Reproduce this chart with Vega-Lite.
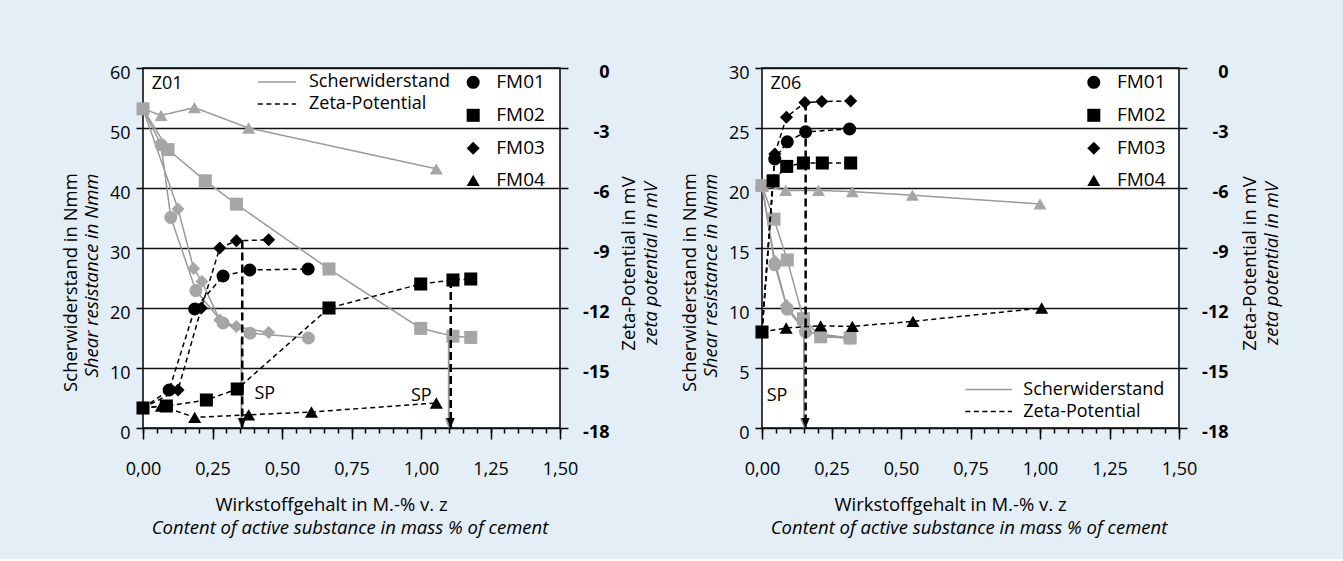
{
"$schema": "https://vega.github.io/schema/vega-lite/v6.json",
"background": "#E4EEF6",
"padding": {"left": 60, "top": 62, "right": 61, "bottom": 21},
"spacing": 18,
"config": {
  "font": "Open Sans",
  "view": {"stroke": "black", "strokeWidth": 1.5, "fill": "white"},
  "axis": {"labelColor": "black", "titleColor": "black", "tickColor": "black", "tickWidth": 1.5, "domain": false, "grid": false, "titleFontWeight": "normal", "labelFont": "Open Sans", "titleFont": "Open Sans", "labelFlush": false, "labelOverlap": false},
  "legend": {"labelFont": "Open Sans", "labelColor": "black", "padding": 0},
  "locale": {"number": {"decimal": ",", "thousands": ".", "grouping": [3], "currency": ["", " €"], "minus": "-"}}
},
"datasets": {
  "pts": [
    {"p":"Z01","m":"Scherwiderstand","s":"FM01","x":0,"v":53.2},{"p":"Z01","m":"Scherwiderstand","s":"FM01","x":0.065,"v":47.2},{"p":"Z01","m":"Scherwiderstand","s":"FM01","x":0.10,"v":35.1},{"p":"Z01","m":"Scherwiderstand","s":"FM01","x":0.19,"v":22.9},{"p":"Z01","m":"Scherwiderstand","s":"FM01","x":0.288,"v":17.5},{"p":"Z01","m":"Scherwiderstand","s":"FM01","x":0.385,"v":15.8},{"p":"Z01","m":"Scherwiderstand","s":"FM01","x":0.595,"v":15.0},
    {"p":"Z01","m":"Scherwiderstand","s":"FM02","x":0,"v":53.2},{"p":"Z01","m":"Scherwiderstand","s":"FM02","x":0.09,"v":46.4},{"p":"Z01","m":"Scherwiderstand","s":"FM02","x":0.224,"v":41.2},{"p":"Z01","m":"Scherwiderstand","s":"FM02","x":0.336,"v":37.3},{"p":"Z01","m":"Scherwiderstand","s":"FM02","x":0.669,"v":26.5},{"p":"Z01","m":"Scherwiderstand","s":"FM02","x":0.999,"v":16.6},{"p":"Z01","m":"Scherwiderstand","s":"FM02","x":1.115,"v":15.3},{"p":"Z01","m":"Scherwiderstand","s":"FM02","x":1.179,"v":15.1},
    {"p":"Z01","m":"Scherwiderstand","s":"FM03","x":0,"v":53.2},{"p":"Z01","m":"Scherwiderstand","s":"FM03","x":0.126,"v":36.5},{"p":"Z01","m":"Scherwiderstand","s":"FM03","x":0.182,"v":26.6},{"p":"Z01","m":"Scherwiderstand","s":"FM03","x":0.212,"v":24.4},{"p":"Z01","m":"Scherwiderstand","s":"FM03","x":0.276,"v":18.0},{"p":"Z01","m":"Scherwiderstand","s":"FM03","x":0.336,"v":16.9},{"p":"Z01","m":"Scherwiderstand","s":"FM03","x":0.452,"v":15.9},
    {"p":"Z01","m":"Scherwiderstand","s":"FM04","x":0,"v":53.2},{"p":"Z01","m":"Scherwiderstand","s":"FM04","x":0.065,"v":52.1},{"p":"Z01","m":"Scherwiderstand","s":"FM04","x":0.185,"v":53.4},{"p":"Z01","m":"Scherwiderstand","s":"FM04","x":0.38,"v":50.0},{"p":"Z01","m":"Scherwiderstand","s":"FM04","x":1.055,"v":43.2},
    {"p":"Z01","m":"Zeta-Potential","s":"FM01","x":0,"v":-17.0},{"p":"Z01","m":"Zeta-Potential","s":"FM01","x":0.094,"v":-16.1},{"p":"Z01","m":"Zeta-Potential","s":"FM01","x":0.186,"v":-12.05},{"p":"Z01","m":"Zeta-Potential","s":"FM01","x":0.288,"v":-10.4},{"p":"Z01","m":"Zeta-Potential","s":"FM01","x":0.384,"v":-10.1},{"p":"Z01","m":"Zeta-Potential","s":"FM01","x":0.594,"v":-10.05},
    {"p":"Z01","m":"Zeta-Potential","s":"FM02","x":0,"v":-17.0},{"p":"Z01","m":"Zeta-Potential","s":"FM02","x":0.084,"v":-16.9},{"p":"Z01","m":"Zeta-Potential","s":"FM02","x":0.228,"v":-16.6},{"p":"Z01","m":"Zeta-Potential","s":"FM02","x":0.339,"v":-16.05},{"p":"Z01","m":"Zeta-Potential","s":"FM02","x":0.669,"v":-12.0},{"p":"Z01","m":"Zeta-Potential","s":"FM02","x":0.999,"v":-10.8},{"p":"Z01","m":"Zeta-Potential","s":"FM02","x":1.115,"v":-10.6},{"p":"Z01","m":"Zeta-Potential","s":"FM02","x":1.179,"v":-10.55},
    {"p":"Z01","m":"Zeta-Potential","s":"FM03","x":0,"v":-17.0},{"p":"Z01","m":"Zeta-Potential","s":"FM03","x":0.126,"v":-16.1},{"p":"Z01","m":"Zeta-Potential","s":"FM03","x":0.21,"v":-12.0},{"p":"Z01","m":"Zeta-Potential","s":"FM03","x":0.276,"v":-9.0},{"p":"Z01","m":"Zeta-Potential","s":"FM03","x":0.336,"v":-8.64},{"p":"Z01","m":"Zeta-Potential","s":"FM03","x":0.452,"v":-8.59},
    {"p":"Z01","m":"Zeta-Potential","s":"FM04","x":0,"v":-17.0},{"p":"Z01","m":"Zeta-Potential","s":"FM04","x":0.066,"v":-16.9},{"p":"Z01","m":"Zeta-Potential","s":"FM04","x":0.186,"v":-17.47},{"p":"Z01","m":"Zeta-Potential","s":"FM04","x":0.38,"v":-17.34},{"p":"Z01","m":"Zeta-Potential","s":"FM04","x":0.606,"v":-17.2},{"p":"Z01","m":"Zeta-Potential","s":"FM04","x":1.055,"v":-16.75},
    {"p":"Z06","m":"Scherwiderstand","s":"FM01","x":0,"v":20.2},{"p":"Z06","m":"Scherwiderstand","s":"FM01","x":0.046,"v":13.6},{"p":"Z06","m":"Scherwiderstand","s":"FM01","x":0.091,"v":9.9},{"p":"Z06","m":"Scherwiderstand","s":"FM01","x":0.157,"v":8.0},{"p":"Z06","m":"Scherwiderstand","s":"FM01","x":0.315,"v":7.5},
    {"p":"Z06","m":"Scherwiderstand","s":"FM02","x":0,"v":20.2},{"p":"Z06","m":"Scherwiderstand","s":"FM02","x":0.043,"v":17.4},{"p":"Z06","m":"Scherwiderstand","s":"FM02","x":0.091,"v":14.0},{"p":"Z06","m":"Scherwiderstand","s":"FM02","x":0.149,"v":9.1},{"p":"Z06","m":"Scherwiderstand","s":"FM02","x":0.211,"v":7.6},{"p":"Z06","m":"Scherwiderstand","s":"FM02","x":0.317,"v":7.5},
    {"p":"Z06","m":"Scherwiderstand","s":"FM03","x":0,"v":20.2},{"p":"Z06","m":"Scherwiderstand","s":"FM03","x":0.046,"v":13.9},{"p":"Z06","m":"Scherwiderstand","s":"FM03","x":0.088,"v":10.2},{"p":"Z06","m":"Scherwiderstand","s":"FM03","x":0.154,"v":8.1},{"p":"Z06","m":"Scherwiderstand","s":"FM03","x":0.215,"v":7.7},{"p":"Z06","m":"Scherwiderstand","s":"FM03","x":0.319,"v":7.5},
    {"p":"Z06","m":"Scherwiderstand","s":"FM04","x":0,"v":20.2},{"p":"Z06","m":"Scherwiderstand","s":"FM04","x":0.085,"v":19.8},{"p":"Z06","m":"Scherwiderstand","s":"FM04","x":0.203,"v":19.8},{"p":"Z06","m":"Scherwiderstand","s":"FM04","x":0.325,"v":19.7},{"p":"Z06","m":"Scherwiderstand","s":"FM04","x":0.541,"v":19.4},{"p":"Z06","m":"Scherwiderstand","s":"FM04","x":1.0,"v":18.67},
    {"p":"Z06","m":"Zeta-Potential","s":"FM01","x":0,"v":-13.2},{"p":"Z06","m":"Zeta-Potential","s":"FM01","x":0.046,"v":-4.55},{"p":"Z06","m":"Zeta-Potential","s":"FM01","x":0.091,"v":-3.69},{"p":"Z06","m":"Zeta-Potential","s":"FM01","x":0.157,"v":-3.19},{"p":"Z06","m":"Zeta-Potential","s":"FM01","x":0.315,"v":-3.05},
    {"p":"Z06","m":"Zeta-Potential","s":"FM02","x":0,"v":-13.2},{"p":"Z06","m":"Zeta-Potential","s":"FM02","x":0.04,"v":-5.64},{"p":"Z06","m":"Zeta-Potential","s":"FM02","x":0.089,"v":-4.92},{"p":"Z06","m":"Zeta-Potential","s":"FM02","x":0.149,"v":-4.75},{"p":"Z06","m":"Zeta-Potential","s":"FM02","x":0.217,"v":-4.75},{"p":"Z06","m":"Zeta-Potential","s":"FM02","x":0.319,"v":-4.75},
    {"p":"Z06","m":"Zeta-Potential","s":"FM03","x":0,"v":-13.2},{"p":"Z06","m":"Zeta-Potential","s":"FM03","x":0.046,"v":-4.3},{"p":"Z06","m":"Zeta-Potential","s":"FM03","x":0.088,"v":-2.46},{"p":"Z06","m":"Zeta-Potential","s":"FM03","x":0.154,"v":-1.73},{"p":"Z06","m":"Zeta-Potential","s":"FM03","x":0.215,"v":-1.68},{"p":"Z06","m":"Zeta-Potential","s":"FM03","x":0.319,"v":-1.65},
    {"p":"Z06","m":"Zeta-Potential","s":"FM04","x":0,"v":-13.2},{"p":"Z06","m":"Zeta-Potential","s":"FM04","x":0.087,"v":-13.0},{"p":"Z06","m":"Zeta-Potential","s":"FM04","x":0.211,"v":-12.89},{"p":"Z06","m":"Zeta-Potential","s":"FM04","x":0.325,"v":-12.92},{"p":"Z06","m":"Zeta-Potential","s":"FM04","x":0.543,"v":-12.67},{"p":"Z06","m":"Zeta-Potential","s":"FM04","x":1.006,"v":-12.0}
  ],
  "arrows": [
    {"p":"Z01","m":"Scherwiderstand","x":0.354,"top":15.1,"bot":0},
    {"p":"Z01","m":"Zeta-Potential","x":0.357,"top":-8.62,"bot":-18},
    {"p":"Z01","m":"Scherwiderstand","x":1.100,"top":15.2,"bot":0},
    {"p":"Z01","m":"Zeta-Potential","x":1.107,"top":-10.6,"bot":-18},
    {"p":"Z06","m":"Scherwiderstand","x":0.151,"top":8.0,"bot":0},
    {"p":"Z06","m":"Zeta-Potential","x":0.157,"top":-1.73,"bot":-18}
  ],
  "notes": [
    {"p":"Z01","t":"Z01","x":0.087,"v":57.3},
    {"p":"Z01","t":"SP","x":0.438,"v":5.7},
    {"p":"Z01","t":"SP","x":1.001,"v":5.4},
    {"p":"Z06","t":"Z06","x":0.086,"v":28.67},
    {"p":"Z06","t":"SP","x":0.054,"v":2.69}
  ]
},
"resolve": {"scale": {"color": "independent", "shape": "independent", "strokeDash": "independent"}, "legend": {"color": "independent", "shape": "independent", "strokeDash": "independent"}},
"hconcat": [
{
  "width": 417, "height": 360,
  "resolve": {"scale": {"y": "independent", "shape": "independent"}, "axis": {"x": "independent", "y": "independent"}},
  "layer": [
    {
      "data": {"name": "pts"},
      "transform": [{"filter": "datum.p == 'Z01' && datum.m == 'Scherwiderstand'"}],
      "mark": {"type": "line", "strokeWidth": 1.5},
      "encoding": {
        "x": {"field": "x", "type": "quantitative", "scale": {"domain": [0, 1.5], "nice": false},
              "axis": {"orient": "bottom", "values": [0, 0.25, 0.5, 0.75, 1, 1.25, 1.5], "format": ".2f", "tickSize": 11, "labelFontSize": 18, "labelPadding": 30, "labelBaseline": "middle", "title": "Wirkstoffgehalt in M.-% v. z", "titleFontSize": 18.5, "titleX": 188, "titleY": 76, "titleBaseline": "middle", "titleAlign": "center"}},
        "y": {"field": "v", "type": "quantitative", "scale": {"domain": [0, 60], "nice": false},
              "axis": {"orient": "left", "values": [0, 10, 20, 30, 40, 50, 60], "tickSize": 7, "grid": true, "gridColor": "#111111", "gridWidth": 1.5, "labelFontSize": 18, "labelPadding": 6, "labelOffset": 5, "title": "Scherwiderstand in Nmm", "titleFontSize": 18.5, "titleAngle": -90, "titleX": -73, "titleY": 214, "titleBaseline": "middle", "titleAlign": "center"}},
        "color": {"field": "m", "type": "nominal", "scale": {"domain": ["Scherwiderstand", "Zeta-Potential"], "range": ["#999999", "#000000"]},
                  "legend": {"orient": "none", "legendX": 125, "legendY": 5, "title": null, "symbolType": "M-3.83,0H3.83", "symbolSize": 100, "symbolStrokeWidth": 1.5, "labelFontSize": 18, "labelOffset": 23, "rowPadding": 4, "padding": 0}},
        "strokeDash": {"field": "m", "type": "nominal", "scale": {"domain": ["Scherwiderstand", "Zeta-Potential"], "range": [[1, 0], [5, 3.5]]},
                  "legend": {"orient": "none", "legendX": 125, "legendY": 5, "title": null, "symbolType": "M-3.83,0H3.83", "symbolSize": 100, "symbolStrokeWidth": 1.5, "labelFontSize": 18, "labelOffset": 23, "rowPadding": 4, "padding": 0}},
        "detail": {"field": "s"}
      }
    },
    {
      "data": {"name": "pts"},
      "transform": [{"filter": "datum.p == 'Z01' && datum.m == 'Scherwiderstand' && (datum.x > 0 || datum.s == 'FM02')"}],
      "mark": {"type": "point", "filled": true, "size": 170, "opacity": 1, "color": "#a6a6a6"},
      "encoding": {
        "x": {"field": "x", "type": "quantitative", "scale": {"domain": [0, 1.5], "nice": false},
              "axis": {"orient": "bottom", "values": [0,0.05,0.1,0.15,0.2,0.25,0.3,0.35,0.4,0.45,0.5,0.55,0.6,0.65,0.7,0.75,0.8,0.85,0.9,0.95,1,1.05,1.1,1.15,1.2,1.25,1.3,1.35,1.4,1.45,1.5], "labels": false, "tickSize": 5, "title": "Content of active substance in mass % of cement", "titleFontSize": 18.5, "titleFontStyle": "italic", "titleX": 206.5, "titleY": 99, "titleBaseline": "middle", "titleAlign": "center"}},
        "y": {"field": "v", "type": "quantitative", "scale": {"domain": [0, 60], "nice": false},
              "axis": {"orient": "left", "labels": false, "ticks": false, "title": "Shear resistance in Nmm", "titleFontStyle": "italic", "titleFontSize": 18.5, "titleAngle": -90, "titleX": -52, "titleY": 207, "titleBaseline": "middle", "titleAlign": "center"}},
        "shape": {"field": "s", "type": "nominal", "scale": {"domain": ["FM01", "FM02", "FM03", "FM04"], "range": ["circle", "square", "diamond", "triangle-up"]}, "legend": null}
      }
    },
    {
      "data": {"name": "arrows"},
      "transform": [{"filter": "datum.p == 'Z01' && datum.m == 'Scherwiderstand'"}],
      "mark": {"type": "rule", "color": "#9a9a9a", "strokeWidth": 2},
      "encoding": {
        "x": {"field": "x", "type": "quantitative", "scale": {"domain": [0, 1.5], "nice": false}, "axis": null},
        "y": {"field": "top", "type": "quantitative", "scale": {"domain": [0, 60], "nice": false}, "axis": null},
        "y2": {"field": "bot"}
      }
    },
    {
      "data": {"name": "arrows"},
      "transform": [{"filter": "datum.p == 'Z01' && datum.m == 'Scherwiderstand'"}],
      "mark": {"type": "point", "shape": "M-2,-5L2,-5L0,0Z", "size": 16, "filled": true, "opacity": 1, "color": "#8a8a8a"},
      "encoding": {
        "x": {"field": "x", "type": "quantitative", "scale": {"domain": [0, 1.5], "nice": false}, "axis": null},
        "y": {"field": "bot", "type": "quantitative", "scale": {"domain": [0, 60], "nice": false}, "axis": null}
      }
    },
    {
      "data": {"name": "pts"},
      "transform": [{"filter": "datum.p == 'Z01' && datum.m == 'Zeta-Potential'"}],
      "mark": {"type": "line", "strokeWidth": 1.5},
      "encoding": {
        "x": {"field": "x", "type": "quantitative", "scale": {"domain": [0, 1.5], "nice": false}, "axis": null},
        "y": {"field": "v", "type": "quantitative", "scale": {"domain": [-18, 0], "nice": false, "zero": false},
              "axis": {"orient": "right", "values": [-18, -15, -12, -9, -6, -3, 0], "format": "d", "tickSize": 8, "labelAlign": "right", "labelPadding": 41, "labelFontSize": 18, "labelFontWeight": "bold", "labelOffset": 4, "title": "Zeta-Potential in mV", "titleFontSize": 18.5, "titleAngle": -90, "titleX": 68, "titleY": 195, "titleBaseline": "middle", "titleAlign": "center"}},
        "color": {"field": "m", "type": "nominal", "scale": {"domain": ["Scherwiderstand", "Zeta-Potential"], "range": ["#999999", "#000000"]},
                  "legend": {"orient": "none", "legendX": 125, "legendY": 5, "title": null, "symbolType": "M-3.83,0H3.83", "symbolSize": 100, "symbolStrokeWidth": 1.5, "labelFontSize": 18, "labelOffset": 23, "rowPadding": 4, "padding": 0}},
        "strokeDash": {"field": "m", "type": "nominal", "scale": {"domain": ["Scherwiderstand", "Zeta-Potential"], "range": [[1, 0], [5, 3.5]]},
                  "legend": {"orient": "none", "legendX": 125, "legendY": 5, "title": null, "symbolType": "M-3.83,0H3.83", "symbolSize": 100, "symbolStrokeWidth": 1.5, "labelFontSize": 18, "labelOffset": 23, "rowPadding": 4, "padding": 0}},
        "detail": {"field": "s"}
      }
    },
    {
      "data": {"name": "pts"},
      "transform": [{"filter": "datum.p == 'Z01' && datum.m == 'Zeta-Potential' && (datum.x > 0 || datum.s == 'FM02')"}],
      "mark": {"type": "point", "filled": true, "size": 170, "opacity": 1, "color": "#000000"},
      "encoding": {
        "x": {"field": "x", "type": "quantitative", "scale": {"domain": [0, 1.5], "nice": false}, "axis": null},
        "y": {"field": "v", "type": "quantitative", "scale": {"domain": [-18, 0], "nice": false, "zero": false},
              "axis": {"orient": "right", "labels": false, "ticks": false, "title": "zeta potential in mV", "titleFontStyle": "italic", "titleFontSize": 18.5, "titleAngle": -90, "titleX": 90, "titleY": 195, "titleBaseline": "middle", "titleAlign": "center"}},
        "shape": {"field": "s", "type": "nominal", "scale": {"domain": ["FM01", "FM02", "FM03", "FM04"], "range": ["circle", "square", "diamond", "triangle-up"]},
                  "legend": {"orient": "none", "legendX": 320.7, "legendY": 4.8, "title": null, "symbolSize": 170, "labelFontSize": 19, "labelOffset": 13.6, "rowPadding": 12, "padding": 0, "symbolFillColor": "black", "symbolStrokeColor": "black", "symbolOpacity": 1}}
      }
    },
    {
      "data": {"name": "arrows"},
      "transform": [{"filter": "datum.p == 'Z01' && datum.m == 'Zeta-Potential'"}],
      "mark": {"type": "rule", "color": "#000000", "strokeWidth": 2.5, "strokeDash": [8, 4]},
      "encoding": {
        "x": {"field": "x", "type": "quantitative", "scale": {"domain": [0, 1.5], "nice": false}, "axis": null},
        "y": {"field": "top", "type": "quantitative", "scale": {"domain": [-18, 0], "nice": false, "zero": false}, "axis": null},
        "y2": {"field": "bot"}
      }
    },
    {
      "data": {"name": "arrows"},
      "transform": [{"filter": "datum.p == 'Z01' && datum.m == 'Zeta-Potential'"}],
      "mark": {"type": "point", "shape": "M-2,-5L2,-5L0,0Z", "size": 16, "filled": true, "opacity": 1, "color": "#000000"},
      "encoding": {
        "x": {"field": "x", "type": "quantitative", "scale": {"domain": [0, 1.5], "nice": false}, "axis": null},
        "y": {"field": "bot", "type": "quantitative", "scale": {"domain": [-18, 0], "nice": false, "zero": false}, "axis": null}
      }
    },
    {
      "data": {"name": "notes"},
      "transform": [{"filter": "datum.p == 'Z01'"}],
      "mark": {"type": "text", "fontSize": 18, "font": "Open Sans", "color": "#000000", "align": "center", "baseline": "middle"},
      "encoding": {
        "x": {"field": "x", "type": "quantitative", "scale": {"domain": [0, 1.5], "nice": false}, "axis": null},
        "y": {"field": "v", "type": "quantitative", "scale": {"domain": [0, 60], "nice": false}, "axis": null},
        "text": {"field": "t"}
      }
    }
  ]
},
{
  "width": 417, "height": 360,
  "resolve": {"scale": {"y": "independent", "shape": "independent"}, "axis": {"x": "independent", "y": "independent"}},
  "layer": [
    {
      "data": {"name": "pts"},
      "transform": [{"filter": "datum.p == 'Z06' && datum.m == 'Scherwiderstand'"}],
      "mark": {"type": "line", "strokeWidth": 1.5},
      "encoding": {
        "x": {"field": "x", "type": "quantitative", "scale": {"domain": [0, 1.5], "nice": false},
              "axis": {"orient": "bottom", "values": [0, 0.25, 0.5, 0.75, 1, 1.25, 1.5], "format": ".2f", "tickSize": 11, "labelFontSize": 18, "labelPadding": 30, "labelBaseline": "middle", "title": "Wirkstoffgehalt in M.-% v. z", "titleFontSize": 18.5, "titleX": 188, "titleY": 76, "titleBaseline": "middle", "titleAlign": "center"}},
        "y": {"field": "v", "type": "quantitative", "scale": {"domain": [0, 30], "nice": false},
              "axis": {"orient": "left", "values": [0, 5, 10, 15, 20, 25, 30], "tickSize": 7, "grid": true, "gridColor": "#111111", "gridWidth": 1.5, "labelFontSize": 18, "labelPadding": 6, "labelOffset": 5, "title": "Scherwiderstand in Nmm", "titleFontSize": 18.5, "titleAngle": -90, "titleX": -73, "titleY": 214, "titleBaseline": "middle", "titleAlign": "center"}},
        "color": {"field": "m", "type": "nominal", "scale": {"domain": ["Scherwiderstand", "Zeta-Potential"], "range": ["#999999", "#000000"]},
                  "legend": {"orient": "none", "legendX": 217.7, "legendY": 312.5, "title": null, "symbolType": "M-4.67,0H4.67", "symbolSize": 100, "symbolStrokeWidth": 1.5, "labelFontSize": 18, "labelOffset": 25.6, "rowPadding": 4, "padding": 0}},
        "strokeDash": {"field": "m", "type": "nominal", "scale": {"domain": ["Scherwiderstand", "Zeta-Potential"], "range": [[1, 0], [5, 3.5]]},
                  "legend": {"orient": "none", "legendX": 217.7, "legendY": 312.5, "title": null, "symbolType": "M-4.67,0H4.67", "symbolSize": 100, "symbolStrokeWidth": 1.5, "labelFontSize": 18, "labelOffset": 25.6, "rowPadding": 4, "padding": 0}},
        "detail": {"field": "s"}
      }
    },
    {
      "data": {"name": "pts"},
      "transform": [{"filter": "datum.p == 'Z06' && datum.m == 'Scherwiderstand' && (datum.x > 0 || datum.s == 'FM02')"}],
      "mark": {"type": "point", "filled": true, "size": 170, "opacity": 1, "color": "#a6a6a6"},
      "encoding": {
        "x": {"field": "x", "type": "quantitative", "scale": {"domain": [0, 1.5], "nice": false},
              "axis": {"orient": "bottom", "values": [0,0.05,0.1,0.15,0.2,0.25,0.3,0.35,0.4,0.45,0.5,0.55,0.6,0.65,0.7,0.75,0.8,0.85,0.9,0.95,1,1.05,1.1,1.15,1.2,1.25,1.3,1.35,1.4,1.45,1.5], "labels": false, "tickSize": 5, "title": "Content of active substance in mass % of cement", "titleFontSize": 18.5, "titleFontStyle": "italic", "titleX": 206.5, "titleY": 99, "titleBaseline": "middle", "titleAlign": "center"}},
        "y": {"field": "v", "type": "quantitative", "scale": {"domain": [0, 30], "nice": false},
              "axis": {"orient": "left", "labels": false, "ticks": false, "title": "Shear resistance in Nmm", "titleFontStyle": "italic", "titleFontSize": 18.5, "titleAngle": -90, "titleX": -52, "titleY": 207, "titleBaseline": "middle", "titleAlign": "center"}},
        "shape": {"field": "s", "type": "nominal", "scale": {"domain": ["FM01", "FM02", "FM03", "FM04"], "range": ["circle", "square", "diamond", "triangle-up"]}, "legend": null}
      }
    },
    {
      "data": {"name": "arrows"},
      "transform": [{"filter": "datum.p == 'Z06' && datum.m == 'Scherwiderstand'"}],
      "mark": {"type": "rule", "color": "#9a9a9a", "strokeWidth": 2},
      "encoding": {
        "x": {"field": "x", "type": "quantitative", "scale": {"domain": [0, 1.5], "nice": false}, "axis": null},
        "y": {"field": "top", "type": "quantitative", "scale": {"domain": [0, 30], "nice": false}, "axis": null},
        "y2": {"field": "bot"}
      }
    },
    {
      "data": {"name": "arrows"},
      "transform": [{"filter": "datum.p == 'Z06' && datum.m == 'Scherwiderstand'"}],
      "mark": {"type": "point", "shape": "M-2,-5L2,-5L0,0Z", "size": 16, "filled": true, "opacity": 1, "color": "#8a8a8a"},
      "encoding": {
        "x": {"field": "x", "type": "quantitative", "scale": {"domain": [0, 1.5], "nice": false}, "axis": null},
        "y": {"field": "bot", "type": "quantitative", "scale": {"domain": [0, 30], "nice": false}, "axis": null}
      }
    },
    {
      "data": {"name": "pts"},
      "transform": [{"filter": "datum.p == 'Z06' && datum.m == 'Zeta-Potential'"}],
      "mark": {"type": "line", "strokeWidth": 1.5},
      "encoding": {
        "x": {"field": "x", "type": "quantitative", "scale": {"domain": [0, 1.5], "nice": false}, "axis": null},
        "y": {"field": "v", "type": "quantitative", "scale": {"domain": [-18, 0], "nice": false, "zero": false},
              "axis": {"orient": "right", "values": [-18, -15, -12, -9, -6, -3, 0], "format": "d", "tickSize": 8, "labelAlign": "right", "labelPadding": 41, "labelFontSize": 18, "labelFontWeight": "bold", "labelOffset": 4, "title": "Zeta-Potential in mV", "titleFontSize": 18.5, "titleAngle": -90, "titleX": 70.5, "titleY": 195, "titleBaseline": "middle", "titleAlign": "center"}},
        "color": {"field": "m", "type": "nominal", "scale": {"domain": ["Scherwiderstand", "Zeta-Potential"], "range": ["#999999", "#000000"]},
                  "legend": {"orient": "none", "legendX": 217.7, "legendY": 312.5, "title": null, "symbolType": "M-4.67,0H4.67", "symbolSize": 100, "symbolStrokeWidth": 1.5, "labelFontSize": 18, "labelOffset": 25.6, "rowPadding": 4, "padding": 0}},
        "strokeDash": {"field": "m", "type": "nominal", "scale": {"domain": ["Scherwiderstand", "Zeta-Potential"], "range": [[1, 0], [5, 3.5]]},
                  "legend": {"orient": "none", "legendX": 217.7, "legendY": 312.5, "title": null, "symbolType": "M-4.67,0H4.67", "symbolSize": 100, "symbolStrokeWidth": 1.5, "labelFontSize": 18, "labelOffset": 25.6, "rowPadding": 4, "padding": 0}},
        "detail": {"field": "s"}
      }
    },
    {
      "data": {"name": "pts"},
      "transform": [{"filter": "datum.p == 'Z06' && datum.m == 'Zeta-Potential' && (datum.x > 0 || datum.s == 'FM02')"}],
      "mark": {"type": "point", "filled": true, "size": 170, "opacity": 1, "color": "#000000"},
      "encoding": {
        "x": {"field": "x", "type": "quantitative", "scale": {"domain": [0, 1.5], "nice": false}, "axis": null},
        "y": {"field": "v", "type": "quantitative", "scale": {"domain": [-18, 0], "nice": false, "zero": false},
              "axis": {"orient": "right", "labels": false, "ticks": false, "title": "zeta potential in mV", "titleFontStyle": "italic", "titleFontSize": 18.5, "titleAngle": -90, "titleX": 92.5, "titleY": 195, "titleBaseline": "middle", "titleAlign": "center"}},
        "shape": {"field": "s", "type": "nominal", "scale": {"domain": ["FM01", "FM02", "FM03", "FM04"], "range": ["circle", "square", "diamond", "triangle-up"]},
                  "legend": {"orient": "none", "legendX": 322.3, "legendY": 4.8, "title": null, "symbolSize": 170, "labelFontSize": 19, "labelOffset": 13.6, "rowPadding": 12, "padding": 0, "symbolFillColor": "black", "symbolStrokeColor": "black", "symbolOpacity": 1}}
      }
    },
    {
      "data": {"name": "arrows"},
      "transform": [{"filter": "datum.p == 'Z06' && datum.m == 'Zeta-Potential'"}],
      "mark": {"type": "rule", "color": "#000000", "strokeWidth": 2.5, "strokeDash": [8, 4]},
      "encoding": {
        "x": {"field": "x", "type": "quantitative", "scale": {"domain": [0, 1.5], "nice": false}, "axis": null},
        "y": {"field": "top", "type": "quantitative", "scale": {"domain": [-18, 0], "nice": false, "zero": false}, "axis": null},
        "y2": {"field": "bot"}
      }
    },
    {
      "data": {"name": "arrows"},
      "transform": [{"filter": "datum.p == 'Z06' && datum.m == 'Zeta-Potential'"}],
      "mark": {"type": "point", "shape": "M-2,-5L2,-5L0,0Z", "size": 16, "filled": true, "opacity": 1, "color": "#000000"},
      "encoding": {
        "x": {"field": "x", "type": "quantitative", "scale": {"domain": [0, 1.5], "nice": false}, "axis": null},
        "y": {"field": "bot", "type": "quantitative", "scale": {"domain": [-18, 0], "nice": false, "zero": false}, "axis": null}
      }
    },
    {
      "data": {"name": "notes"},
      "transform": [{"filter": "datum.p == 'Z06'"}],
      "mark": {"type": "text", "fontSize": 18, "font": "Open Sans", "color": "#000000", "align": "center", "baseline": "middle"},
      "encoding": {
        "x": {"field": "x", "type": "quantitative", "scale": {"domain": [0, 1.5], "nice": false}, "axis": null},
        "y": {"field": "v", "type": "quantitative", "scale": {"domain": [0, 30], "nice": false}, "axis": null},
        "text": {"field": "t"}
      }
    }
  ]
}
]
}
